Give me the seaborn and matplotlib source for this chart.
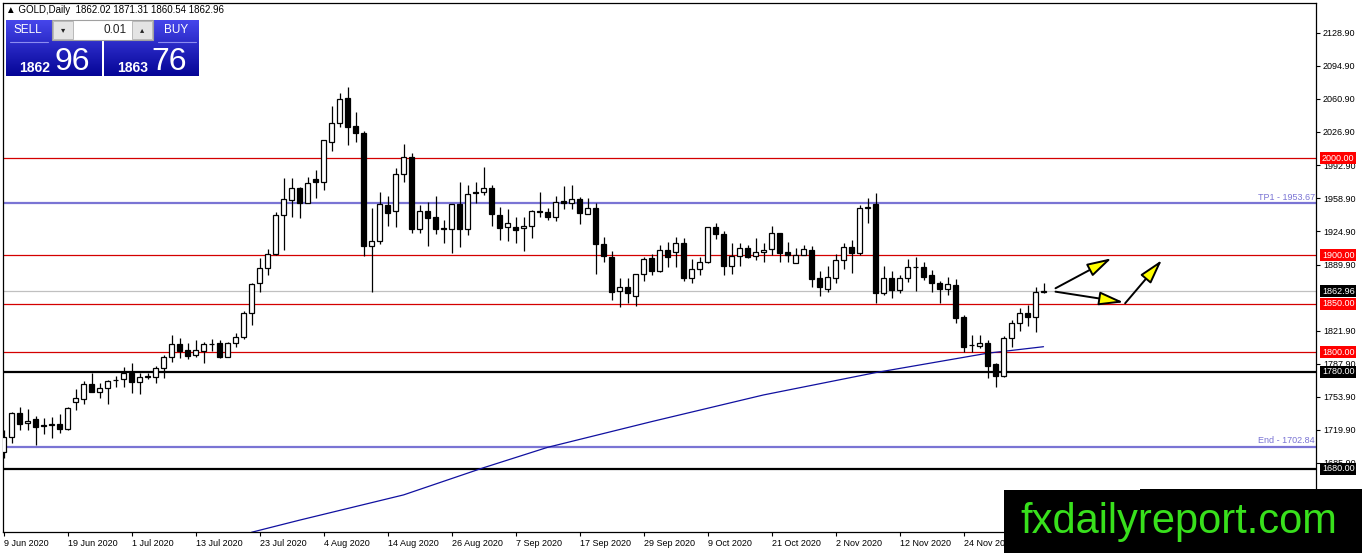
import numpy as np
import matplotlib
matplotlib.use("Agg")
import matplotlib.pyplot as plt
import seaborn as sns
from matplotlib.patches import Rectangle, FancyArrowPatch
import matplotlib.transforms as mtransforms

# ---------------- data ----------------
opens = [1697.0, 1713.0, 1737.1, 1726.8, 1731.2, 1725.0, 1725.5, 1726.1, 1721.0, 1749.1,
         1752.2, 1767.0, 1759.4, 1762.8, 1771.0, 1772.1, 1779.0, 1769.0, 1774.8, 1774.2,
         1783.4, 1794.8, 1808.1, 1802.3, 1797.5, 1801.6, 1808.3, 1809.2, 1795.5, 1809.2,
         1816.1, 1840.1, 1871.0, 1886.5, 1901.2, 1941.4, 1956.8, 1968.9, 1954.1, 1978.1,
         1975.0, 2016.9, 2036.5, 2061.6, 2033.1, 2025.5, 1909.8, 1915.0, 1951.7, 1945.9,
         1983.3, 2000.8, 1927.3, 1945.5, 1939.7, 1928.4, 1927.3, 1952.7, 1927.3, 1965.4,
         1965.4, 1968.9, 1941.4, 1929.4, 1928.7, 1927.7, 1930.4, 1945.3, 1944.1, 1939.0,
         1955.5, 1954.1, 1957.5, 1942.4, 1949.0, 1911.2, 1898.5, 1863.4, 1866.9, 1858.3,
         1880.6, 1896.8, 1884.0, 1905.3, 1903.5, 1912.2, 1876.8, 1885.4, 1892.6, 1928.7,
         1921.8, 1889.2, 1899.5, 1907.0, 1899.5, 1903.0, 1906.0, 1923.2, 1903.6, 1891.6,
         1900.2, 1905.3, 1876.2, 1864.8, 1876.2, 1895.0, 1908.1, 1901.9, 1949.0, 1952.7,
         1861.4, 1876.2, 1864.1, 1876.2, 1887.5, 1887.5, 1879.6, 1871.0, 1864.8, 1869.3,
         1836.7, 1807.5, 1806.8, 1809.2, 1787.9, 1775.9, 1814.3, 1829.8, 1840.8, 1836.7,
         1862.02]
highs = [1719.9, 1738.8, 1743.9, 1741.2, 1734.3, 1731.9, 1733.0, 1736.7, 1744.0, 1761.8,
         1770.4, 1779.0, 1768.0, 1771.0, 1775.5, 1784.5, 1788.6, 1778.3, 1778.3, 1786.2,
         1797.2, 1817.4, 1814.3, 1809.2, 1812.6, 1810.2, 1813.6, 1812.6, 1810.9, 1819.5,
         1842.9, 1871.7, 1896.8, 1906.0, 1944.8, 1979.9, 1979.9, 1970.6, 1980.9, 1987.7,
         2018.7, 2053.7, 2067.4, 2072.9, 2047.9, 2028.3, 1948.3, 1964.8, 1961.0, 1989.5,
         2014.6, 2005.6, 1951.7, 1955.1, 1961.0, 1936.3, 1952.7, 1975.7, 1972.3, 1975.7,
         1991.2, 1972.3, 1950.0, 1947.2, 1939.0, 1939.0, 1946.5, 1964.8, 1948.3, 1961.0,
         1971.3, 1972.3, 1960.3, 1958.6, 1954.1, 1918.4, 1904.7, 1876.2, 1876.2, 1880.6,
         1898.5, 1901.2, 1910.5, 1913.9, 1919.1, 1917.4, 1896.1, 1898.5, 1929.0, 1932.8,
         1925.3, 1912.2, 1912.9, 1910.5, 1917.4, 1912.9, 1930.1, 1923.2, 1913.9, 1907.0,
         1910.5, 1909.5, 1884.0, 1888.9, 1901.2, 1912.2, 1915.6, 1951.7, 1958.6, 1963.7,
         1888.9, 1884.0, 1879.6, 1895.7, 1898.5, 1893.3, 1884.7, 1873.8, 1877.9, 1875.1,
         1838.4, 1817.8, 1817.8, 1812.6, 1789.3, 1816.8, 1833.2, 1845.3, 1848.7, 1867.0,
         1871.31]
lows = [1690.7, 1706.8, 1719.9, 1719.9, 1704.5, 1715.5, 1712.0, 1716.5, 1720.0, 1740.5,
        1746.7, 1759.4, 1752.5, 1746.4, 1764.5, 1763.9, 1758.4, 1757.0, 1772.1, 1768.7,
        1773.1, 1789.9, 1794.4, 1792.7, 1794.8, 1789.3, 1801.6, 1793.7, 1794.8, 1805.1,
        1813.6, 1828.1, 1862.4, 1879.6, 1900.2, 1905.3, 1939.7, 1938.0, 1954.1, 1958.6,
        1967.2, 2007.7, 2032.4, 2013.5, 2016.9, 1899.5, 1861.7, 1911.5, 1930.4, 1928.7,
        1975.1, 1923.2, 1923.2, 1909.8, 1921.8, 1912.9, 1901.9, 1908.8, 1920.8, 1954.1,
        1962.0, 1930.4, 1915.6, 1914.9, 1912.2, 1904.6, 1918.0, 1939.7, 1936.3, 1935.6,
        1947.2, 1947.2, 1931.8, 1942.4, 1880.6, 1893.3, 1853.8, 1847.0, 1851.1, 1848.0,
        1873.8, 1879.6, 1883.0, 1887.5, 1887.5, 1873.4, 1871.7, 1879.6, 1892.0, 1916.7,
        1879.6, 1880.6, 1888.8, 1896.8, 1895.0, 1893.3, 1900.2, 1893.3, 1893.3, 1891.6,
        1900.2, 1867.6, 1858.3, 1862.4, 1871.7, 1885.4, 1882.0, 1900.2, 1933.5, 1850.4,
        1859.0, 1855.5, 1860.7, 1872.7, 1863.1, 1874.4, 1862.4, 1851.1, 1859.0, 1829.8,
        1799.9, 1799.9, 1804.7, 1773.1, 1763.9, 1774.9, 1805.8, 1822.2, 1827.4, 1821.2,
        1860.54]
closes = [1713.0, 1737.1, 1725.7, 1729.2, 1723.3, 1724.0, 1725.8, 1721.3, 1742.2, 1752.5,
          1767.0, 1759.4, 1762.8, 1770.4, 1771.5, 1779.0, 1769.7, 1774.9, 1775.2, 1783.4,
          1795.5, 1808.1, 1801.6, 1796.5, 1802.3, 1808.1, 1808.5, 1794.8, 1809.2, 1816.1,
          1840.1, 1870.3, 1886.5, 1901.2, 1941.4, 1957.5, 1968.9, 1954.1, 1974.0, 1975.0,
          2018.7, 2035.8, 2060.6, 2032.4, 2025.5, 1909.8, 1915.0, 1952.4, 1943.1, 1983.3,
          2000.8, 1927.3, 1945.5, 1938.7, 1927.3, 1926.6, 1952.7, 1927.3, 1962.7, 1964.4,
          1968.9, 1942.1, 1928.4, 1932.8, 1925.9, 1930.0, 1945.5, 1944.8, 1939.0, 1954.4,
          1954.1, 1957.5, 1943.1, 1948.3, 1911.2, 1899.2, 1862.4, 1866.9, 1860.7, 1880.6,
          1896.1, 1884.0, 1905.3, 1897.8, 1912.2, 1876.8, 1885.8, 1892.6, 1928.7, 1921.8,
          1889.2, 1899.5, 1907.0, 1897.8, 1903.0, 1905.3, 1922.5, 1902.6, 1900.2, 1900.2,
          1906.0, 1875.5, 1867.0, 1877.9, 1895.0, 1908.1, 1901.9, 1948.3, 1949.5, 1861.4,
          1876.2, 1864.1, 1876.2, 1888.2, 1887.8, 1877.9, 1871.0, 1864.8, 1870.0, 1835.6,
          1805.8, 1807.8, 1809.2, 1786.2, 1775.9, 1814.3, 1829.8, 1840.1, 1836.7, 1861.7,
          1862.96]

# moving average read at a few bars
ma_bars = [31, 37, 50, 60, 68, 81, 95, 109, 123, 130]
ma_values = [1614.5, 1627.0, 1653.0, 1681.0, 1702.0, 1728.5, 1756.0, 1779.0, 1799.0, 1805.7]

# visible x tick labels (the 4 Dec label is hidden under the watermark in the original)
x_tick_bars = [0, 8, 16, 24, 32, 40, 48, 56, 64, 72, 80, 88, 96, 104, 112, 120]
x_tick_labels = ["9 Jun 2020", "19 Jun 2020", "1 Jul 2020", "13 Jul 2020", "23 Jul 2020",
                 "4 Aug 2020", "14 Aug 2020", "26 Aug 2020", "7 Sep 2020", "17 Sep 2020",
                 "29 Sep 2020", "9 Oct 2020", "21 Oct 2020", "2 Nov 2020", "12 Nov 2020",
                 "24 Nov 2020"]
# visible y tick labels (1855.90 and 1651.90 are hidden in the original)
y_tick_values = [2128.9, 2094.9, 2060.9, 2026.9, 1992.9, 1958.9, 1924.9, 1889.9,
                 1821.9, 1787.9, 1753.9, 1719.9, 1685.9]

red_levels = [2000.0, 1900.0, 1850.0, 1800.0]
purple_levels = [1953.67, 1702.84]
purple_labels = ["TP1 - 1953.67", "End - 1702.84"]
black_levels = [1780.0, 1680.0]
bid_price = 1862.96
header = "\u25B2 GOLD,Daily  1862.02 1871.31 1860.54 1862.96"

# arrows (bar, price) start -> end
arrows = [((131.5, 1865.9), (138.5, 1896.8)),
          ((131.5, 1862.4), (140.0, 1851.5)),
          ((140.2, 1850.4), (144.8, 1895.0))]

# ---------------- figure ----------------
sns.set_theme(style="white")
plt.rcParams['font.family'] = ['Liberation Sans', 'DejaVu Sans']

W, H = 1362, 553
fig = plt.figure(figsize=(W / 100, H / 100), dpi=100)
fig.patch.set_facecolor('white')
ax = fig.add_axes([3 / W, 21 / H, 1313 / W, 529 / H])
ax.set_facecolor('white')

o = np.array(opens); c = np.array(closes); h = np.array(highs); l = np.array(lows)
idx = np.arange(len(o))
bull = c >= o
lo = np.minimum(o, c)
hh = np.maximum(np.abs(c - o), 0.35)

# levels
for lv in red_levels:
    ax.axhline(lv, color='#d40000', lw=0.9, zorder=1)
for lv in purple_levels:
    ax.axhline(lv, color='#7a74d4', lw=1.6, zorder=1)
for lv in black_levels:
    ax.axhline(lv, color='black', lw=1.6, zorder=1)
ax.axhline(bid_price, color='#c0c0c0', lw=0.9, zorder=1)

# moving average
sns.lineplot(x=ma_bars, y=ma_values, ax=ax, color='#1010a0', lw=0.9, sort=False, zorder=2)

# candles
ax.vlines(idx, l, h, color='black', lw=0.9, zorder=3)
ax.bar(idx[bull], hh[bull], bottom=lo[bull], width=0.52, color='white',
       edgecolor='black', linewidth=0.9, zorder=4)
ax.bar(idx[~bull], hh[~bull], bottom=lo[~bull], width=0.52, color='black',
       edgecolor='black', linewidth=0.9, zorder=4)

# arrows
for (s, e) in arrows:
    ap = FancyArrowPatch(s, e, arrowstyle='-|>,head_length=1.5,head_width=0.42',
                         mutation_scale=10, fc='#ffff00', ec='black', lw=1.4,
                         shrinkA=0, shrinkB=0, zorder=6)
    ax.add_patch(ap)

ax.set_xlim(-0.0625, 164.06)
ax.set_ylim(1614.8, 2159.8)

# axes styling
for sp in ax.spines.values():
    sp.set_visible(True)
    sp.set_color('black')
    sp.set_linewidth(0.9)
ax.yaxis.tick_right()
ax.set_yticks(y_tick_values)
ax.set_yticklabels([f"{v:.2f}" for v in y_tick_values])
ax.set_xticks(x_tick_bars)
ax.set_xticklabels(x_tick_labels, ha='left')
ax.tick_params(axis='y', which='both', right=True, left=False, direction='out',
               length=3, width=0.8, pad=2, labelsize=6.5, colors='black')
ax.tick_params(axis='x', which='both', bottom=True, direction='out',
               length=3, width=0.8, pad=2, labelsize=6.5, colors='black')
ax.set_xlabel(''); ax.set_ylabel('')
ax.grid(False)

# line labels
for lv, lab in zip(purple_levels, purple_labels):
    ax.text(163.9, lv + 1.5, lab, ha='right', va='bottom',
            color='#7a74d4', fontsize=6.5, zorder=5)

# price boxes on the right axis
bt = mtransforms.blended_transform_factory(ax.transAxes, ax.transData)
box_items = [(lv, '#ff0000') for lv in red_levels] + [(bid_price, 'black')] + \
            [(lv, 'black') for lv in black_levels]
for lv, col in box_items:
    ax.text(1.0045, lv, f"{lv:.2f}", transform=bt, ha='left', va='center',
            color='white', fontsize=6.5, clip_on=False, zorder=7,
            bbox=dict(boxstyle='square,pad=0.18', fc=col, ec='none'))

# ---------------- overlay (panel and watermark) ----------------
ov = fig.add_axes([0, 0, 1, 1], zorder=10)
ov.set_xlim(0, W); ov.set_ylim(H, 0)
ov.axis('off')
ov.patch.set_alpha(0)

ov.text(6, 10, header, ha='left', va='center', fontsize=7, color='black')

top = np.array([70, 70, 235]) / 255.0
bot = np.array([5, 5, 150]) / 255.0
t = np.linspace(0, 1, 60)[:, None, None]
grad = top * (1 - t) + bot * t
for (x0, x1) in [(6, 102), (104, 199)]:
    ov.imshow(grad, extent=[x0, x1, 76, 20], aspect='auto', interpolation='bilinear', zorder=1)
ov.set_xlim(0, W); ov.set_ylim(H, 0)
# separators under SELL/BUY
ov.plot([10, 48], [41.5, 41.5], color='#8c8cf0', lw=0.8, zorder=2)
ov.plot([158, 196], [41.5, 41.5], color='#8c8cf0', lw=0.8, zorder=2)
# spinner
ov.add_patch(Rectangle((52, 20), 101, 20, fc='white', ec='#a0a0a0', lw=0.8, zorder=3))
ov.add_patch(Rectangle((53, 21), 20, 18, fc='#e4e4e4', ec='#b0b0b0', lw=0.6, zorder=4))
ov.add_patch(Rectangle((132, 21), 20, 18, fc='#e4e4e4', ec='#b0b0b0', lw=0.6, zorder=4))
ov.text(63, 30, "\u25BE", ha='center', va='center', fontsize=6, color='#222222', zorder=5,
        family=['DejaVu Sans'])
ov.text(142, 30, "\u25B4", ha='center', va='center', fontsize=6, color='#222222', zorder=5,
        family=['DejaVu Sans'])
ov.text(127, 30, "0.01", ha='right', va='center', fontsize=8.5, color='#222222', zorder=5)
ov.text(28, 30, "SELL", ha='center', va='center', fontsize=8.5, color='white', zorder=5)
ov.text(176, 30, "BUY", ha='center', va='center', fontsize=8.5, color='white', zorder=5)
ov.text(50, 72, "1862", ha='right', va='baseline', fontsize=10, color='white',
        fontweight='bold', zorder=5)
ov.text(54, 70.5, "96", ha='left', va='baseline', fontsize=23, color='white', zorder=5)
ov.text(148, 72, "1863", ha='right', va='baseline', fontsize=10, color='white',
        fontweight='bold', zorder=5)
ov.text(151, 70.5, "76", ha='left', va='baseline', fontsize=23, color='white', zorder=5)

# watermark
ov.add_patch(Rectangle((1004, 490), W - 1004, H - 490, fc='black', ec='none', zorder=8))
ov.add_patch(Rectangle((1140, 488.5), W - 1140, 3, fc='black', ec='none', zorder=8))
ov.text(1020, 533, "fxdailyreport.com", ha='left', va='baseline', fontsize=30,
        color='#38e01c', zorder=9, family=['Liberation Sans'])

fig.savefig("out.png", dpi=100, facecolor='white')
